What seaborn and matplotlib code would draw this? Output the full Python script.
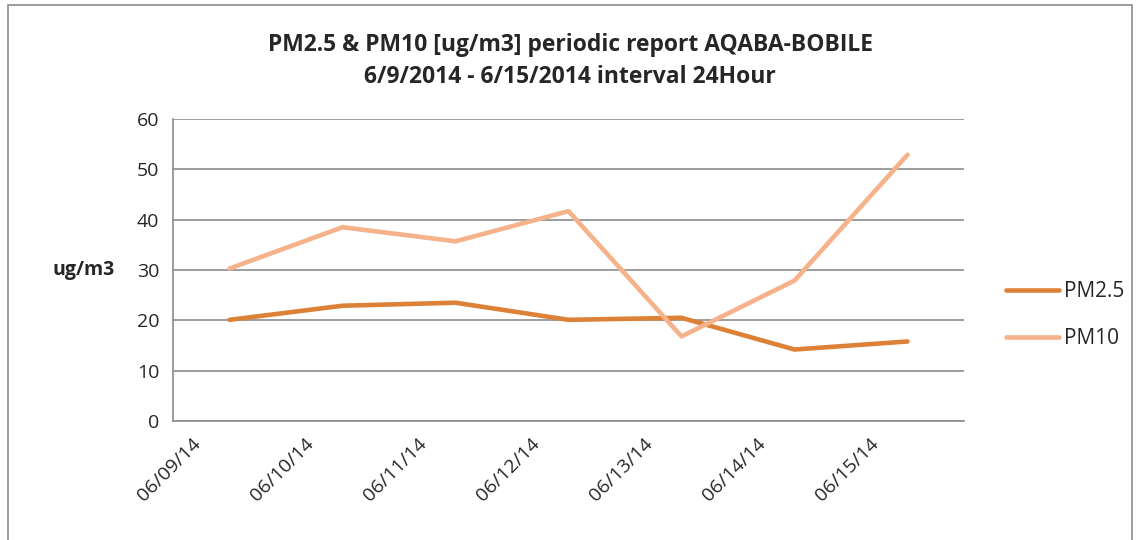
import pandas as pd
import matplotlib.pyplot as plt
import matplotlib.transforms as mtrans
import seaborn as sns
from matplotlib.patches import Rectangle

# values
dates = ['06/09/14', '06/10/14', '06/11/14', '06/12/14', '06/13/14', '06/14/14', '06/15/14']
pm25 = [20.1, 22.9, 23.5, 20.1, 20.5, 14.2, 15.8]
pm10 = [30.3, 38.5, 35.7, 41.7, 16.8, 27.9, 52.9]

df = pd.DataFrame({
    'date': dates * 2,
    'value': pm25 + pm10,
    'series': ['PM2.5'] * len(dates) + ['PM10'] * len(dates),
})

sns.set_style('white')
plt.rcParams['font.family'] = ['Open Sans', 'DejaVu Sans']

fig = plt.figure(figsize=(11.4, 5.4), dpi=100)
ax = fig.add_axes([0.1518, 0.2204, 0.6938, 0.5592])

sns.lineplot(data=df, x='date', y='value', hue='series',
             palette={'PM2.5': '#DD8137', 'PM10': '#F6B28A'},
             linewidth=3.3, sort=False, ax=ax)

ax.set_xlim(-0.5, len(dates) - 0.5)
ax.set_ylim(0, 60)
ax.set_yticks(range(0, 61, 10))
ax.grid(axis='y', color='#8c8c8c', linewidth=1.2)
ax.set_axisbelow(True)
for s in ['top', 'right']:
    ax.spines[s].set_visible(False)
for s in ['left', 'bottom']:
    ax.spines[s].set_color('#8c8c8c')
    ax.spines[s].set_linewidth(1.2)
ax.tick_params(axis='y', length=0, labelsize=14, pad=10)
ax.tick_params(axis='x', length=0, labelsize=14, pad=10)
# shift rotated date labels left like the original
shift = mtrans.ScaledTranslation(-0.38, 0, fig.dpi_scale_trans)
for lbl in ax.get_xticklabels():
    lbl.set_rotation(45)
    lbl.set_ha('right')
    lbl.set_rotation_mode('anchor')
    lbl.set_transform(lbl.get_transform() + shift)

ax.set_xlabel('')
ax.set_ylabel('ug/m3', rotation=0, fontsize=14, fontweight='bold', labelpad=38, va='center')

fig.text(0.5, 0.887, 'PM2.5 & PM10 [ug/m3] periodic report AQABA-BOBILE\n6/9/2014 - 6/15/2014 interval 24Hour',
         ha='center', va='center', fontsize=16.5, fontweight='bold', linespacing=1.45)

leg = ax.legend(loc='center left', bbox_to_anchor=(1.03, 0.35), frameon=False,
                fontsize=15, handlelength=2.5, handletextpad=0.25, labelspacing=1.25)
for line in leg.get_lines():
    line.set_linewidth(3.3)

fig.patches.append(Rectangle((0.007, -0.05), 0.986, 1.04, transform=fig.transFigure,
                             fill=False, edgecolor='#8c8c8c', linewidth=1.2))

fig.savefig('out.png', dpi=100)
